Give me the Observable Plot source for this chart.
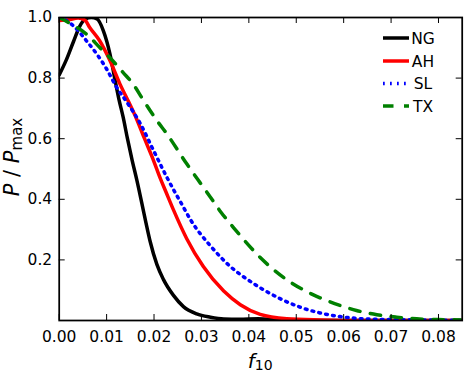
<!DOCTYPE html>
<html><head><meta charset="utf-8">
<script src="https://cdn.jsdelivr.net/npm/d3@7"></script>
<script src="https://cdn.jsdelivr.net/npm/@observablehq/plot@0.6"></script>
<style>html,body{margin:0;padding:0;background:#fff;} svg{display:block}</style>
</head><body><div id="chart"></div>
<script>
const seriesNames = ["NG", "AH", "SL", "TX"];
const seriesColors = ["#000000", "#ff0000", "#0000ff", "#008000"];
const seriesDash = [null, null, "1.75,5.25", "10.5,10.5"];

const ngF = [0, 0.0015, 0.003, 0.0043, 0.0055, 0.0068, 0.008, 0.0093, 0.0107, 0.0117, 0.0126, 0.0135, 0.0144, 0.0154, 0.0164, 0.0182, 0.0192, 0.0206, 0.022, 0.0241, 0.0262, 0.029, 0.0319, 0.0347, 0.038, 0.042, 0.046, 0.05, 0.06, 0.07, 0.085];
const ngP = [0.81, 0.86, 0.92, 0.97, 0.995, 1.0, 0.995, 0.957, 0.88, 0.80, 0.73, 0.67, 0.60, 0.528, 0.462, 0.33, 0.26, 0.185, 0.135, 0.083, 0.046, 0.022, 0.011, 0.005, 0.004, 0.006, 0.003, 0.001, 0, 0, 0];

const ahF = [0, 0.002, 0.004, 0.0055, 0.0064, 0.0085, 0.0107, 0.0128, 0.0147, 0.0163, 0.018, 0.0199, 0.0213, 0.0225, 0.0241, 0.0269, 0.0304, 0.0347, 0.0382, 0.0424, 0.048, 0.055, 0.065, 0.085];
const ahP = [0.99, 0.993, 0.998, 0.99, 0.968, 0.924, 0.858, 0.781, 0.72, 0.666, 0.60, 0.528, 0.47, 0.425, 0.365, 0.27, 0.178, 0.097, 0.052, 0.02, 0.006, 0.002, 0, 0];

const slF = [0, 0.0015, 0.0036, 0.0057, 0.0079, 0.01, 0.0121, 0.0143, 0.0171, 0.0199, 0.0227, 0.0262, 0.0278, 0.0318, 0.034, 0.0361, 0.0382, 0.041, 0.0424, 0.0466, 0.0508, 0.055, 0.0592, 0.065, 0.075, 0.085];
const slP = [1.0, 0.99, 0.963, 0.924, 0.88, 0.83, 0.77, 0.72, 0.65, 0.561, 0.473, 0.374, 0.33, 0.248, 0.21, 0.178, 0.152, 0.122, 0.108, 0.072, 0.044, 0.025, 0.013, 0.005, 0.002, 0.001];

const txF = [0, 0.003, 0.0057, 0.0085, 0.011, 0.0135, 0.0156, 0.0178, 0.0206, 0.0227, 0.0269, 0.0297, 0.0319, 0.034, 0.0368, 0.0392, 0.042, 0.0452, 0.0487, 0.0519, 0.055, 0.0592, 0.0627, 0.067, 0.0712, 0.0754, 0.08, 0.085];
const txP = [1.0, 0.974, 0.946, 0.902, 0.862, 0.818, 0.78, 0.726, 0.66, 0.616, 0.517, 0.455, 0.407, 0.36, 0.306, 0.262, 0.214, 0.168, 0.127, 0.098, 0.075, 0.05, 0.033, 0.019, 0.011, 0.0055, 0.003, 0.002];

const xTicks = [0, 0.01, 0.02, 0.03, 0.04, 0.05, 0.06, 0.07, 0.08];
const yTicks = [0.2, 0.4, 0.6, 0.8, 1.0];
const xDomain = [0, 0.085];
const yDomain = [0, 1];

const seriesF = [ngF, ahF, slF, txF];
const seriesP = [ngP, ahP, slP, txP];
const seriesData = seriesNames.map((name, i) => seriesF[i].map((f, j) => ({series: name, f, p: seriesP[i][j]})));

const W = 468, H = 376, mL = 58.7, mR = 6.3, mT = 17, mB = 56;
const frameW = W - mL - mR, frameH = H - mT - mB;
const tickLen = 6;

const lineMarks = seriesData.map((d, i) => Plot.line(d, {
  x: "f", y: "p", stroke: seriesColors[i], strokeWidth: 3.5,
  strokeDasharray: seriesDash[i], curve: "monotone-x", clip: true
}));

const svg = Plot.plot({
  width: W, height: H,
  marginLeft: mL, marginRight: mR, marginTop: mT, marginBottom: mB,
  style: {fontFamily: "'DejaVu Sans', sans-serif", fontSize: "15.5px", background: "#fff", color: "#000"},
  x: {domain: xDomain},
  y: {domain: yDomain},
  marks: [
    ...lineMarks,
    Plot.tickX(xTicks, {x: d => d, insetTop: frameH - tickLen, stroke: "#000", strokeWidth: 1}),
    Plot.tickX(xTicks, {x: d => d, insetBottom: frameH - tickLen, stroke: "#000", strokeWidth: 1}),
    Plot.tickY(yTicks, {y: d => d, insetRight: frameW - tickLen, stroke: "#000", strokeWidth: 1}),
    Plot.tickY(yTicks, {y: d => d, insetLeft: frameW - tickLen, stroke: "#000", strokeWidth: 1}),
    Plot.axisX({ticks: xTicks, tickSize: 0, tickPadding: 10.5, tickFormat: d3.format(".2f"), label: null}),
    Plot.axisY({ticks: yTicks, tickSize: 0, tickPadding: 7, tickFormat: d3.format(".1f"), label: null}),
    Plot.frame({stroke: "#000", strokeWidth: 1.75})
  ]
});

const s = d3.select(svg);
// x label: f_10
const xl = s.append("text")
  .attr("x", mL + frameW / 2).attr("y", 367.5)
  .attr("text-anchor", "middle").attr("font-size", 20).attr("fill", "#000");
xl.append("tspan").attr("font-style", "italic").text("f");
xl.append("tspan").attr("font-size", 14).attr("dy", 2.5).text("10");

// y label: P / P_max
const yl = s.append("text")
  .attr("transform", "translate(18.5,157) rotate(-90)")
  .attr("text-anchor", "middle").attr("font-size", 21).attr("fill", "#000");
yl.append("tspan").attr("font-style", "italic").text("P");
yl.append("tspan").text(" / ");
yl.append("tspan").attr("font-style", "italic").text("P");
yl.append("tspan").attr("font-size", 15).attr("dy", 3).text("max");

// legend
const legY = [38, 61, 83.5, 106];
seriesNames.forEach((name, i) => {
  const g = s.append("g");
  g.append("line").attr("x1", 383).attr("x2", 409).attr("y1", legY[i]).attr("y2", legY[i])
    .attr("stroke", seriesColors[i]).attr("stroke-width", 3.5)
    .attr("stroke-dasharray", seriesDash[i]);
  g.append("text").attr("x", 423).attr("y", legY[i] + 5.6).attr("fill", "#000")
    .attr("font-size", 15.5).text(name);
});

document.getElementById("chart").appendChild(svg);
</script>
</body></html>
